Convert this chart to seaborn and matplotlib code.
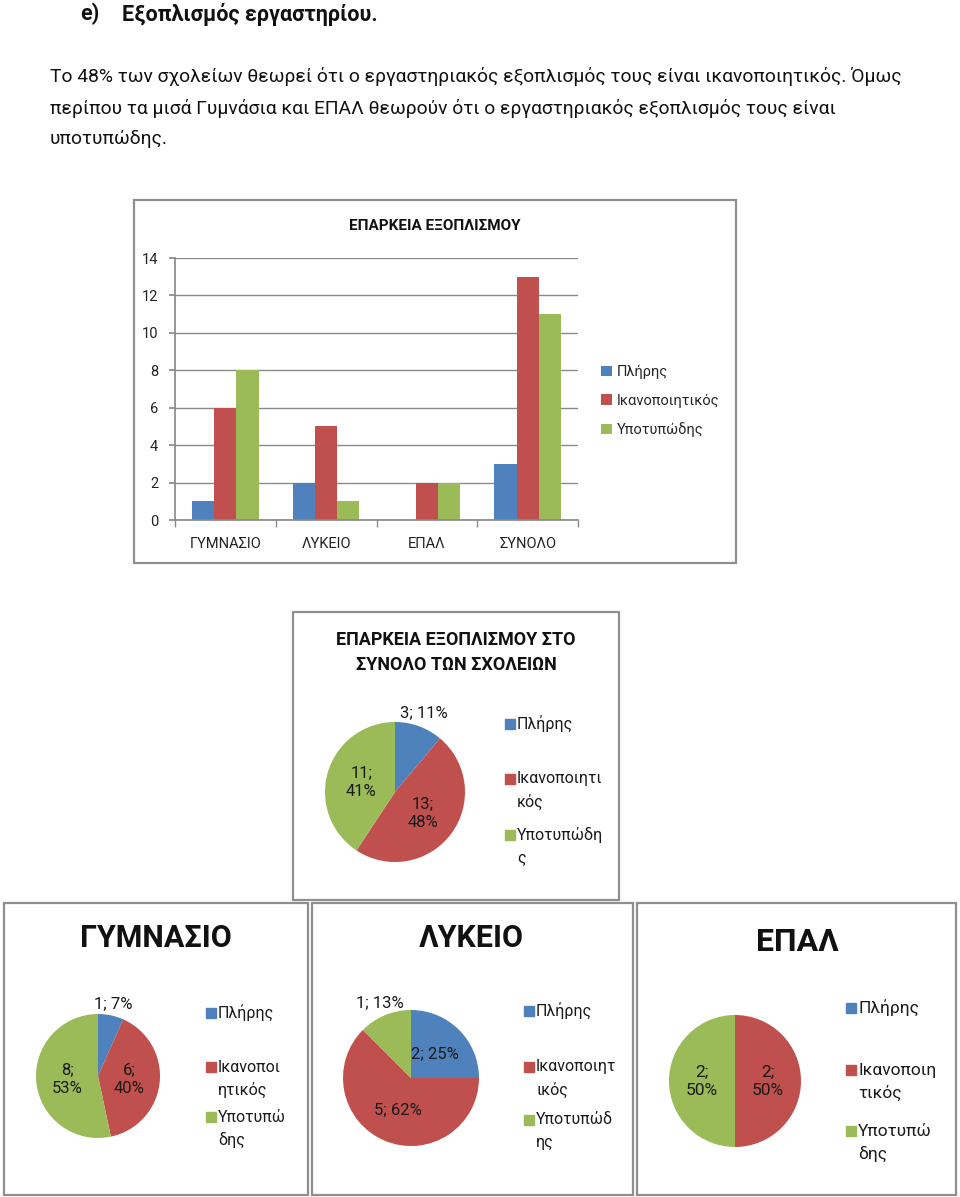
import numpy as np
import pandas as pd
import seaborn as sns
import matplotlib.pyplot as plt
from matplotlib.patches import Rectangle

W, H = 960, 1197

# data
schools = ['ΓΥΜΝΑΣΙΟ', 'ΛΥΚΕΙΟ', 'ΕΠΑΛ', 'ΣΥΝΟΛΟ']
ratings = ['Πλήρης', 'Ικανοποιητικός', 'Υποτυπώδης']
plires = [1, 2, 0, 3]
ikanopoiitikos = [6, 5, 2, 13]
ypotypodis = [8, 1, 2, 11]

# percentages as printed on the pie labels
pct_synolo = [11, 48, 41]
pct_gymnasio = [7, 40, 53]
pct_lykeio = [25, 62, 13]
pct_epal = [0, 50, 50]

# legend labels as they wrap inside the small pie boxes
leg_synolo = [['Πλήρης'], ['Ικανοποιητι', 'κός'], ['Υποτυπώδη', 'ς']]
leg_gymnasio = [['Πλήρης'], ['Ικανοποι', 'ητικός'], ['Υποτυπώ', 'δης']]
leg_lykeio = [['Πλήρης'], ['Ικανοποιητ', 'ικός'], ['Υποτυπώδ', 'ης']]
leg_epal = [['Πλήρης'], ['Ικανοποιη', 'τικός'], ['Υποτυπώ', 'δης']]

colors = ['#4F81BD', '#C0504D', '#9BBB59']

sns.set_theme(style='white')
plt.rcParams['font.family'] = ['Roboto', 'DejaVu Sans']

fig = plt.figure(figsize=(9.6, 11.97), dpi=100)


def fx(x):
    return x / W


def fy(y):
    return 1 - y / H


def box(x0, y0, x1, y1):
    return [fx(x0), fy(y1), (x1 - x0) / W, (y1 - y0) / H]


def frame(x0, y0, x1, y1):
    fig.patches.append(Rectangle((fx(x0), fy(y1)), (x1 - x0) / W, (y1 - y0) / H,
                                 transform=fig.transFigure, fill=False,
                                 edgecolor='#8f8f8f', linewidth=1.6))


# ---------------- page text ----------------
fig.text(fx(80), fy(14), 'e)', fontsize=15.5, fontweight='bold', va='center', color='#111111')
fig.text(fx(122), fy(14), 'Εξοπλισμός εργαστηρίου.', fontsize=15.5, fontweight='bold',
         va='center', color='#111111')
para = ['Το 48% των σχολείων θεωρεί ότι ο εργαστηριακός εξοπλισμός τους είναι ικανοποιητικός. Όμως',
        'περίπου τα μισά Γυμνάσια και ΕΠΑΛ θεωρούν ότι ο εργαστηριακός εξοπλισμός τους είναι',
        'υποτυπώδης.']
for line, y in zip(para, [76, 108, 139]):
    fig.text(fx(50), fy(y), line, fontsize=13.9, va='center', color='#111111')

# ---------------- bar chart ----------------
frame(134, 200, 736, 563)
df = pd.DataFrame({
    'school': schools * 3,
    'rating': np.repeat(ratings, len(schools)),
    'count': plires + ikanopoiitikos + ypotypodis,
})
ax = fig.add_axes(box(175, 258, 578, 520))
sns.barplot(data=df, x='school', y='count', hue='rating', order=schools, hue_order=ratings,
            palette=colors, saturation=1, width=0.66, ax=ax, linewidth=0)
ax.set_xlim(-0.5, 3.5)
ax.set_ylim(0, 14)
ax.set_yticks(range(0, 15, 2))
ax.yaxis.grid(True, color='#8a8a8a', linewidth=1)
ax.set_axisbelow(True)
ax.set_xlabel('')
ax.set_ylabel('')
for s in ['top', 'right']:
    ax.spines[s].set_visible(False)
for s in ['left', 'bottom']:
    ax.spines[s].set_color('#8a8a8a')
ax.set_xticks(np.arange(-0.5, 4, 1), minor=True)
ax.tick_params(axis='x', which='major', length=0, pad=12, labelsize=10.5, labelcolor='#222222')
ax.tick_params(axis='x', which='minor', length=5, color='#8a8a8a', direction='out', bottom=True)
ax.tick_params(axis='y', length=4, color='#8a8a8a', left=True, labelsize=10.5, labelcolor='#222222', pad=8)
ax.legend(loc='center left', bbox_to_anchor=(fx(588), fy(401)), bbox_transform=fig.transFigure,
          frameon=False, fontsize=10.5, handlelength=0.75, handleheight=0.75,
          handletextpad=0.3, labelspacing=1.0)
fig.text(fx(435), fy(226), 'ΕΠΑΡΚΕΙΑ ΕΞΟΠΛΙΣΜΟΥ', ha='center', va='center',
         fontsize=11, fontweight='bold', color='#111111')


# ---------------- pies ----------------
def draw_pie(counts, pcts, cx, cy, r, sep, fs):
    pax = fig.add_axes(box(cx - r, cy - r, cx + r, cy + r))
    wedges, _ = pax.pie(counts, colors=colors, startangle=90, counterclock=False,
                        wedgeprops=dict(linewidth=0))
    total = sum(counts)
    for w, c, p in zip(wedges, counts, pcts):
        if c == 0:
            continue
        mid = np.deg2rad((w.theta1 + w.theta2) / 2)
        if c / total < 0.15:
            rr, txt = 1.2, f'{c}; {p}%'
        else:
            rr, txt = 0.5, f'{c};{sep}{p}%'
        pax.text(rr * np.cos(mid), rr * np.sin(mid), txt, ha='center', va='center',
                 fontsize=fs, color='#1a1a1a', linespacing=1.3)
    pax.set_xlim(-1, 1)
    pax.set_ylim(-1, 1)
    return pax


def pie_legend(x, starts, labels, fs, pitch=23):
    for col, y0, lines in zip(colors, starts, labels):
        fig.patches.append(Rectangle((fx(x), fy(y0 + 5)), 10 / W, 10 / H,
                                     transform=fig.transFigure, color=col))
        for k, ln in enumerate(lines):
            fig.text(fx(x + 12), fy(y0 + k * pitch), ln, va='center', fontsize=fs,
                     color='#1a1a1a')


# total
frame(293, 612, 619, 900)
fig.text(fx(456), fy(640), 'ΕΠΑΡΚΕΙΑ ΕΞΟΠΛΙΣΜΟΥ ΣΤΟ', ha='center', va='center',
         fontsize=13, fontweight='bold', color='#111111')
fig.text(fx(456), fy(665), 'ΣΥΝΟΛΟ ΤΩΝ ΣΧΟΛΕΙΩΝ', ha='center', va='center',
         fontsize=13, fontweight='bold', color='#111111')
draw_pie([plires[3], ikanopoiitikos[3], ypotypodis[3]], pct_synolo, 395, 792, 70, '\n', 12)
pie_legend(505, [724, 779, 835], leg_synolo, 11.5)

# gymnasio
frame(4, 903, 308, 1195)
fig.text(fx(156), fy(938), 'ΓΥΜΝΑΣΙΟ', ha='center', va='center', fontsize=22,
         fontweight='bold', color='#111111')
draw_pie([plires[0], ikanopoiitikos[0], ypotypodis[0]], pct_gymnasio, 98, 1076, 62, '\n', 12)
pie_legend(206, [1013, 1067, 1117], leg_gymnasio, 11.5)

# lykeio
frame(312, 903, 633, 1195)
fig.text(fx(471), fy(938), 'ΛΥΚΕΙΟ', ha='center', va='center', fontsize=22,
         fontweight='bold', color='#111111')
draw_pie([plires[1], ikanopoiitikos[1], ypotypodis[1]], pct_lykeio, 411, 1078, 68, ' ', 12)
pie_legend(524, [1011, 1067, 1120], leg_lykeio, 11.5)

# epal
frame(637, 903, 956, 1195)
fig.text(fx(797), fy(942), 'ΕΠΑΛ', ha='center', va='center', fontsize=23,
         fontweight='bold', color='#111111')
draw_pie([plires[2], ikanopoiitikos[2], ypotypodis[2]], pct_epal, 735, 1081, 66, '\n', 12.5)
pie_legend(846, [1008, 1070, 1131], leg_epal, 12.5)

fig.savefig('out.png', dpi=100, facecolor='white')
